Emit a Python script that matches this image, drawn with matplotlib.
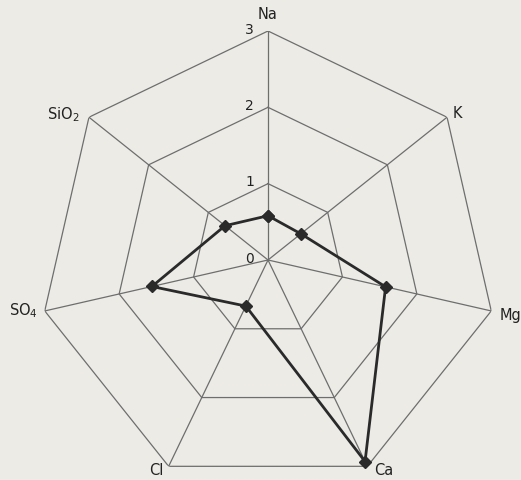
import numpy as np
import matplotlib
matplotlib.use("Agg")
import matplotlib.pyplot as plt

# Ejes del diagrama (en sentido horario desde arriba)
labels = ["Na", "K", "Mg", "Ca", "Cl", "SO$_4$", "SiO$_2$"]
values = [0.58, 0.55, 1.58, 2.93, 0.67, 1.56, 0.72]
ring_values = [1, 2, 3]
tick_labels = ["0", "1", "2", "3"]

# Desplazamientos de las etiquetas (pt) y alineacion
label_offsets = [(0, 12), (4, 3), (6, -3), (5, -3), (-4, -3), (-5, 0), (-7, 2)]
label_align = ["center", "left", "left", "left", "right", "right", "right"]

bg = "#ecebe6"
grid_color = "#6e6e6e"
line_color = "#2a2a2a"

n = len(labels)
angles = np.arange(n) * 2 * np.pi / n

fig = plt.figure(figsize=(5.21, 4.80), dpi=100, facecolor=bg)
ax = fig.add_axes([0.07486, -0.01875, 0.8791, 0.9542], projection="polar")
ax.set_facecolor(bg)
ax.set_theta_offset(np.pi / 2)
ax.set_theta_direction(-1)
ax.set_ylim(0, 3)
ax.grid(False)
ax.spines["polar"].set_visible(False)
ax.set_xticks([])
ax.set_yticks([])
ax.patch.set_alpha(0)

# Anillos heptagonales
closed = np.append(angles, angles[0])
for rv in ring_values:
    ax.plot(closed, [rv] * (n + 1), color=grid_color, lw=0.9, zorder=1)

# Radios
for a in angles:
    ax.plot([a, a], [0, 3], color=grid_color, lw=0.9, zorder=1)

# Serie de datos
vals = np.append(values, values[0])
ax.plot(closed, vals, color=line_color, lw=2.0, marker="D", markersize=6.5,
        markerfacecolor=line_color, markeredgecolor=line_color, zorder=3,
        clip_on=False)

# Etiquetas de los ejes
for a, lab, off, ha in zip(angles, labels, label_offsets, label_align):
    ax.annotate(lab, xy=(a, 3), xytext=off, textcoords="offset points",
                ha=ha, va="center", fontsize=10.5, color="#222222",
                annotation_clip=False)

# Valores de la escala sobre el eje Na
for i, t in enumerate(tick_labels):
    ax.annotate(t, xy=(0, i), xytext=(-10, 1), textcoords="offset points",
                ha="right", va="center", fontsize=10, color="#222222",
                annotation_clip=False)

fig.savefig("out.png", dpi=100, facecolor=bg)
